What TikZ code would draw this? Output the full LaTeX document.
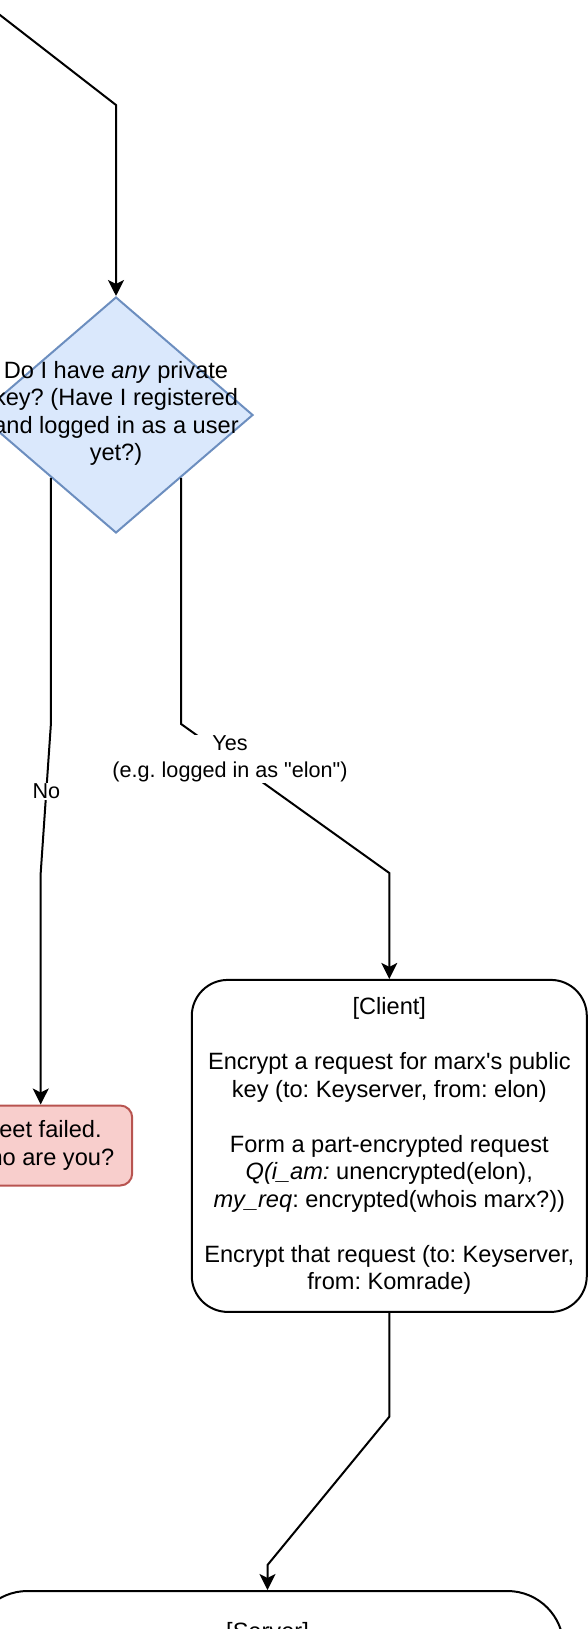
\documentclass[tikz,border=0pt]{standalone}
\usepackage{fontspec}
\setmainfont{Liberation Sans}
\usepackage{tikz}
\usetikzlibrary{arrows.meta,positioning,shapes.geometric,calc}
\definecolor{qfill}{HTML}{DAE8FC}
\definecolor{qline}{HTML}{6C8EBF}
\definecolor{failfill}{HTML}{F8CECC}
\definecolor{failline}{HTML}{B85450}

\begin{document}
\begin{tikzpicture}[x=1pt, y=-1pt,
  font=\fontsize{23.6pt}{27.5pt}\selectfont\frenchspacing,
  flow/.style={-{Stealth[length=16pt,width=16pt,inset=4pt]}, line width=2pt},
  lbl/.style={fill=white, inner sep=1pt, align=center, font=\fontsize{21.6pt}{26.7pt}\selectfont\frenchspacing},
  decision/.style={diamond, draw=qline, fill=qfill, line width=2pt, minimum width=274pt, minimum height=236pt, inner sep=0pt},
  failbox/.style={draw=failline, fill=failfill, line width=2pt, rounded corners=12pt, minimum width=183pt, minimum height=80pt, align=center},
  procbox/.style={draw, line width=2pt, align=center}]
  % Canvas (the drawing is cut off at the page edges)
  \useasboundingbox (0,0) rectangle (588,1629);
  \clip (0,0) rectangle (588,1629);
  % Decision
  \node[decision] (q) at (116,415) {};
  \node[align=center] (qtext) at (116,413.5) {Do I have \textit{any} private\\key? (Have I registered\\and logged in as a user\\yet?)};
  % Outcomes
  \node[failbox] (fail) at (40.7,1145.5) {Meet failed.\\Who are you?};
  \node[procbox, rounded corners=36pt, minimum width=395pt, minimum height=332pt] (client) at (389.3,1145.9) {[Client]\\[27.5pt]
    Encrypt a request for marx\textquotesingle s public\\
    key (to: Keyserver, from: elon)\\[27.5pt]
    Form a part-encrypted request\\
    \textit{Q(i\_am:} unencrypted(elon),\\
    \textit{my\_req}: encrypted(whois marx?))\\[27.5pt]
    Encrypt that request (to: Keyserver,\\
    from: Komrade)};
  \node[procbox, anchor=north, rounded corners=56pt, minimum width=592pt, text height=17.2pt, text depth=220pt, inner ysep=31.7pt] (server) at (267.5,1590) {[Server]};
  % Connectors
  \coordinate (src) at (-40,-16);
  \draw[flow] (src) -- (q.north |- 0,105) -- (q);
  \draw[flow] (q.224.5) -- (q.224.5 |- 0,724) -- node[lbl, pos=0.45] (nolbl) {No} (fail.north |- 0,873) -- (fail);
  \draw[flow] (q.-44.5) -- (q.-44.5 |- 0,724) -- node[lbl, pos=0.235] (yeslbl) {Yes\\(e.g. logged in as \textquotedbl elon\textquotedbl)} (client.north |- 0,873) -- (client);
  \draw[flow] (client.south) -- (client.south |- 0,1416.7) -- (server.north |- 0,1565) -- (server);
\end{tikzpicture}
\end{document}
